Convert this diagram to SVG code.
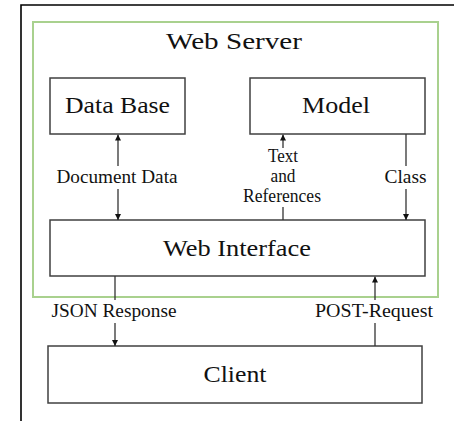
<svg xmlns="http://www.w3.org/2000/svg" width="454" height="421" viewBox="0 0 454 421">
<style>
.box{fill:#fff;stroke:#404040;stroke-width:1.5}
.t{font-family:"Liberation Serif","Times New Roman",serif;fill:#111;text-anchor:middle}
.big{font-size:23px}
.lab{font-size:18.5px}
.ln{stroke:#333;stroke-width:1.3;fill:none}
</style>
<defs>
<marker id="ah" viewBox="0 0 10 10" refX="10" refY="5" markerWidth="6" markerHeight="6" markerUnits="userSpaceOnUse" orient="auto">
<path d="M0,0 L10,5 L0,10 z" fill="#111"/>
</marker>
</defs>
<rect width="454" height="421" fill="#fff"/>
<path d="M21,421 V5 H454" fill="none" stroke="#000" stroke-width="1.6"/>
<g id="webserver">
<rect x="33" y="22" width="405" height="275" fill="none" stroke="#a9d18e" stroke-width="2"/>
<text class="t big" x="234" y="49" textLength="136" lengthAdjust="spacingAndGlyphs">Web Server</text>
</g>
<g id="database">
<rect class="box" x="50" y="78" width="135" height="56"/>
<text class="t big" x="117.5" y="113" textLength="105" lengthAdjust="spacingAndGlyphs">Data Base</text>
</g>
<g id="model">
<rect class="box" x="250" y="78" width="175" height="56"/>
<text class="t big" x="336" y="113" textLength="68" lengthAdjust="spacingAndGlyphs">Model</text>
</g>
<g id="webinterface">
<rect class="box" x="50" y="220" width="375" height="56"/>
<text class="t big" x="237" y="256" textLength="148" lengthAdjust="spacingAndGlyphs">Web Interface</text>
</g>
<g id="client">
<rect class="box" x="48" y="346" width="374" height="57"/>
<text class="t big" x="235" y="382" textLength="63" lengthAdjust="spacingAndGlyphs">Client</text>
</g>
<g id="connectors">
<line class="ln" x1="118" y1="166" x2="118" y2="134.5" marker-end="url(#ah)"/>
<line class="ln" x1="118" y1="189" x2="118" y2="220" marker-end="url(#ah)"/>
<text class="t lab" x="117" y="183" textLength="121" lengthAdjust="spacingAndGlyphs">Document Data</text>
<line class="ln" x1="283" y1="148" x2="283" y2="134.5" marker-end="url(#ah)"/>
<line class="ln" x1="283" y1="207" x2="283" y2="220"/>
<text class="t lab" x="283" y="162" textLength="30" lengthAdjust="spacingAndGlyphs">Text</text>
<text class="t lab" x="283" y="182" textLength="25" lengthAdjust="spacingAndGlyphs">and</text>
<text class="t lab" x="282" y="202" textLength="78" lengthAdjust="spacingAndGlyphs">References</text>
<line class="ln" x1="406" y1="134" x2="406" y2="166"/>
<line class="ln" x1="406" y1="189" x2="406" y2="220" marker-end="url(#ah)"/>
<text class="t lab" x="405.5" y="183" textLength="42" lengthAdjust="spacingAndGlyphs">Class</text>
<line class="ln" x1="115" y1="276" x2="115" y2="300"/>
<line class="ln" x1="115" y1="323" x2="115" y2="346" marker-end="url(#ah)"/>
<text class="t lab" x="114" y="317" textLength="125" lengthAdjust="spacingAndGlyphs">JSON Response</text>
<line class="ln" x1="375" y1="346" x2="375" y2="323"/>
<line class="ln" x1="375" y1="300" x2="375" y2="276.5" marker-end="url(#ah)"/>
<text class="t lab" x="374" y="317" textLength="118" lengthAdjust="spacingAndGlyphs">POST-Request</text>
</g>
</svg>
